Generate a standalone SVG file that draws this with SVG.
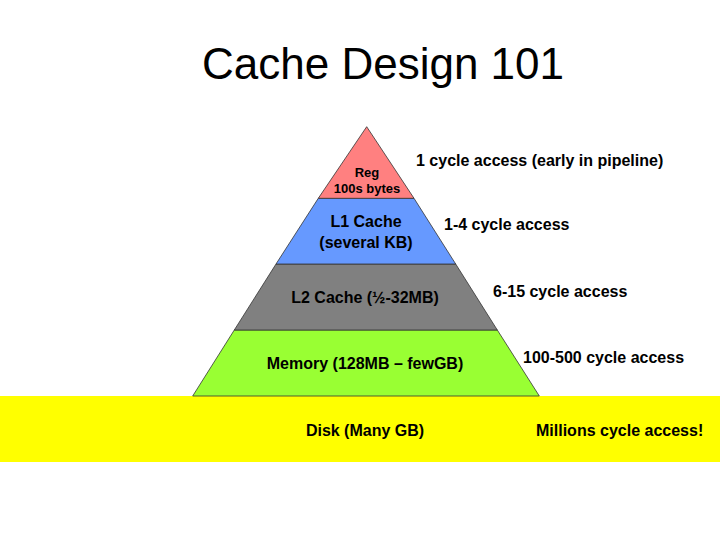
<svg xmlns="http://www.w3.org/2000/svg" width="720" height="540" viewBox="0 0 720 540">
<style>
.l{font-family:"Liberation Sans",Arial,sans-serif;font-weight:bold;fill:#000;text-anchor:middle}
.r{font-family:"Liberation Sans",Arial,sans-serif;font-weight:bold;fill:#000;font-size:16px}
.b{stroke:#333;stroke-width:0.8}
</style>
<rect width="720" height="540" fill="#fff"/>
<text x="383" y="79" font-family="Liberation Sans,Arial,sans-serif" font-size="44" text-anchor="middle">Cache Design 101</text>
<g id="disk"><rect x="0" y="396" width="720" height="66" fill="#ffff00"/>
<text class="l" x="365" y="436" font-size="16">Disk (Many GB)</text></g>
<g id="memory"><polygon class="b" points="234.3,330 497.3,330 539.3,396 192.7,396" fill="#99ff33"/>
<text class="l" x="365" y="369" font-size="16">Memory (128MB – fewGB)</text></g>
<g id="l2"><polygon class="b" points="276,264 455.7,264 497.3,330 234.3,330" fill="#808080"/>
<text class="l" x="365" y="303" font-size="16">L2 Cache  (½-32MB)</text></g>
<g id="l1"><polygon class="b" points="318.3,198.3 414,198.3 455.7,264 276,264" fill="#6699ff"/>
<text class="l" x="366" y="227" font-size="16">L1 Cache</text>
<text class="l" x="366" y="248" font-size="16">(several KB)</text></g>
<g id="reg"><polygon class="b" points="366.7,126.7 414,198.3 318.3,198.3" fill="#ff8080"/>
<text class="l" x="367" y="177" font-size="13" font-weight="normal">Reg</text>
<text class="l" x="367" y="193" font-size="13" font-weight="normal">100s bytes</text></g>
<g id="labels">
<text class="r" x="416" y="166">1 cycle access (early in pipeline)</text>
<text class="r" x="444" y="230">1-4 cycle access</text>
<text class="r" x="493" y="297">6-15 cycle access</text>
<text class="r" x="523" y="363">100-500 cycle access</text>
<text class="r" x="536" y="436">Millions cycle access!</text>
</g>
<g id="connectors"/>
</svg>
